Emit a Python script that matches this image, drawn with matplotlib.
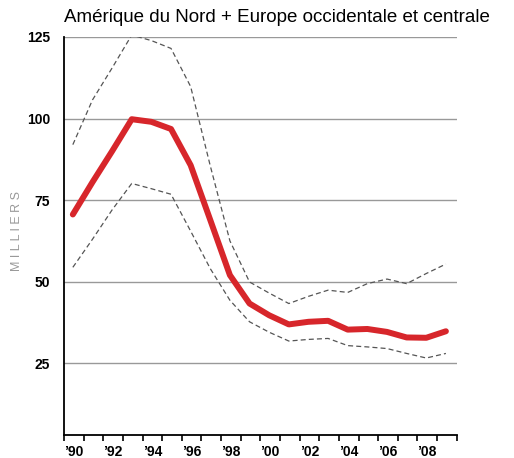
import matplotlib.pyplot as plt

years = list(range(1990, 2010))
central = [70.6, 80.5, 90.0, 99.8, 99.0, 96.8, 85.7, 68.9, 52.0, 43.3,
           39.7, 36.9, 37.7, 38.0, 35.3, 35.5, 34.6, 32.9, 32.8, 34.8]
upper = [92.0, 105.7, 115.5, 125.6, 123.9, 121.5, 109.8, 85.5, 62.5, 49.9,
         46.5, 43.3, 45.5, 47.4, 46.7, 49.4, 50.8, 49.4, 52.5, 55.4]
lower = [54.4, 63.0, 72.0, 80.1, 78.5, 76.8, 65.5, 54.0, 44.3, 37.7,
         34.5, 31.8, 32.3, 32.6, 30.4, 30.0, 29.5, 28.0, 26.6, 28.0]

yticks = [25, 50, 75, 100, 125]
label_years = list(range(1990, 2010, 2))
xlabels = ["\u2019" + str(y)[2:] for y in label_years]

plt.rcParams['font.family'] = ['Liberation Sans', 'DejaVu Sans']

fig = plt.figure(figsize=(5.14, 4.58), dpi=100)
ax = fig.add_axes([64 / 514, 1 - 435 / 458, (456.7 - 64) / 514, (435 - 37) / 458])

x = [y + 0.45 for y in years]

for v in yticks:
    ax.axhline(v, color='#999999', lw=1.0, zorder=1)

ax.plot(x, upper, color='#555555', lw=0.9, dashes=(4, 2.5), zorder=2)
ax.plot(x, lower, color='#555555', lw=0.9, dashes=(4, 2.5), zorder=2)
ax.plot(x, central, color='#d7262b', lw=4.3, solid_joinstyle='round',
        solid_capstyle='round', zorder=3)

ax.set_xlim(1990, 2010)
ax.set_ylim(3, 125)

for s in ['top', 'right']:
    ax.spines[s].set_visible(False)
ax.spines['left'].set_linewidth(1.3)
ax.spines['bottom'].set_linewidth(1.3)

ax.set_yticks(yticks)
ax.set_yticklabels([str(v) for v in yticks], fontsize=10, fontweight='bold')
ax.tick_params(axis='y', length=0, pad=10)

ax.set_xticks(range(1990, 2011))
ax.set_xticklabels([])
ax.tick_params(axis='x', length=4, width=1.2, direction='out')
for y, lab in zip(label_years, xlabels):
    ax.text(y, -0.025, lab, transform=ax.get_xaxis_transform(), ha='left',
            va='top', fontsize=10, fontweight='bold')

fig.text(64 / 514, 1 - 18 / 458, "Amérique du Nord + Europe occidentale et centrale",
         fontsize=13.5, ha='left', va='center')
fig.text(17 / 514, 1 - 231 / 458, "M I L L I E R S", rotation=90, color='#999999',
         fontsize=9, ha='center', va='center')

fig.savefig('out.png', dpi=100)
